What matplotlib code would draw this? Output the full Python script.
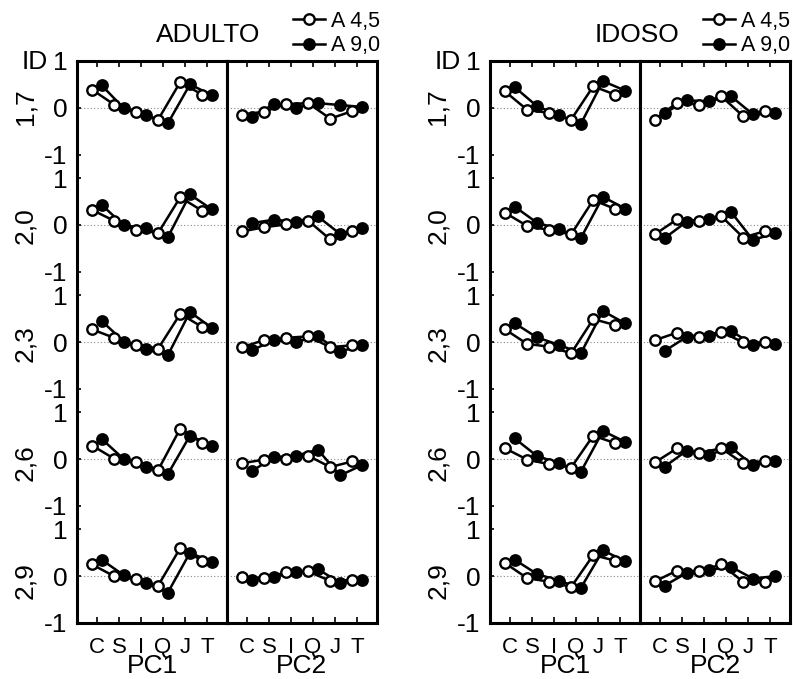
import numpy as np
import matplotlib
matplotlib.use("Agg")
import matplotlib.pyplot as plt

plt.rcParams['font.family'] = ['Liberation Sans', 'DejaVu Sans']

cats = ["C", "S", "I", "Q", "J", "T"]
ids = ["1,7", "2,0", "2,3", "2,6", "2,9"]
groups = ["A 4,5", "A 9,0"]

# rows = ID 1,7 .. 2,9 ; columns = C S I Q J T
adulto_pc1_a45 = [[0.39, 0.07, -0.09, -0.25, 0.55, 0.28],
                  [0.32, 0.09, -0.11, -0.17, 0.59, 0.30],
                  [0.27, 0.09, -0.06, -0.14, 0.60, 0.32],
                  [0.29, 0.01, -0.06, -0.23, 0.65, 0.34],
                  [0.25, 0.00, -0.07, -0.20, 0.60, 0.33]]
adulto_pc1_a90 = [[0.48, -0.01, -0.16, -0.33, 0.50, 0.27],
                  [0.43, -0.01, -0.07, -0.26, 0.65, 0.33],
                  [0.45, 0.01, -0.16, -0.28, 0.64, 0.30],
                  [0.43, 0.00, -0.16, -0.32, 0.50, 0.29],
                  [0.35, 0.02, -0.14, -0.35, 0.50, 0.30]]
adulto_pc2_a45 = [[-0.15, -0.08, 0.08, 0.10, -0.23, -0.07],
                  [-0.14, -0.05, 0.01, 0.09, -0.31, -0.12],
                  [-0.11, 0.04, 0.09, 0.12, -0.11, -0.07],
                  [-0.09, -0.01, 0.00, 0.07, -0.17, -0.05],
                  [-0.02, -0.04, 0.08, 0.10, -0.10, -0.08]]
adulto_pc2_a90 = [[-0.20, 0.08, 0.00, 0.10, 0.06, 0.02],
                  [0.04, 0.11, 0.07, 0.18, -0.19, -0.06],
                  [-0.18, 0.04, 0.00, 0.12, -0.21, -0.06],
                  [-0.26, 0.04, 0.07, 0.20, -0.35, -0.13],
                  [-0.08, -0.01, 0.08, 0.15, -0.14, -0.08]]

idoso_pc1_a45 = [[0.35, -0.04, -0.11, -0.25, 0.46, 0.28],
                 [0.26, -0.02, -0.11, -0.20, 0.53, 0.34],
                 [0.27, -0.04, -0.10, -0.24, 0.49, 0.36],
                 [0.23, -0.01, -0.11, -0.18, 0.50, 0.34],
                 [0.28, -0.04, -0.12, -0.23, 0.45, 0.33]]
idoso_pc1_a90 = [[0.44, 0.04, -0.16, -0.34, 0.57, 0.37],
                 [0.39, 0.05, -0.09, -0.28, 0.60, 0.35],
                 [0.40, 0.10, -0.06, -0.24, 0.66, 0.40],
                 [0.44, 0.07, -0.09, -0.27, 0.60, 0.37],
                 [0.35, 0.05, -0.10, -0.25, 0.55, 0.32]]
idoso_pc2_a45 = [[-0.25, 0.11, 0.07, 0.25, -0.18, -0.07],
                 [-0.20, 0.12, 0.09, 0.19, -0.27, -0.13],
                 [0.04, 0.20, 0.11, 0.22, -0.01, -0.01],
                 [-0.07, 0.23, 0.13, 0.23, -0.09, -0.04],
                 [-0.11, 0.12, 0.10, 0.25, -0.12, -0.13]]
idoso_pc2_a90 = [[-0.11, 0.16, 0.14, 0.25, -0.14, -0.11],
                 [-0.28, 0.07, 0.12, 0.28, -0.32, -0.18],
                 [-0.19, 0.11, 0.13, 0.24, -0.06, -0.05],
                 [-0.16, 0.18, 0.09, 0.25, -0.13, -0.04],
                 [-0.20, 0.07, 0.13, 0.20, -0.05, 0.00]]

W, H = 793, 679
fig = plt.figure(figsize=(W / 100, H / 100), dpi=100)

row_step = 2.5
x = np.arange(len(cats))
offs = 0.22

# title, box left edge, title centre, legend right edge (all px), data
panels = [("ADULTO", 77, 208, 380, [(adulto_pc1_a45, adulto_pc1_a90), (adulto_pc2_a45, adulto_pc2_a90)]),
          ("IDOSO", 490, 637, 790, [(idoso_pc1_a45, idoso_pc1_a90), (idoso_pc2_a45, idoso_pc2_a90)])]

top_px, bot_px, col_px = 61, 623, 150

for title, left_px, title_px, leg_px, cols in panels:
    axes = []
    for ci, (open_d, fill_d) in enumerate(cols):
        ax = fig.add_axes([(left_px + ci * col_px) / W, 1 - bot_px / H,
                           col_px / W, (bot_px - top_px) / H])
        axes.append(ax)
        for r in range(len(ids)):
            base = -r * row_step
            ax.axhline(base, color="#888888", ls=(0, (1, 2)), lw=0.8, zorder=1)
            lf, = ax.plot(x + offs, np.array(fill_d[r]) + base, "-o", color="black",
                          lw=1.8, ms=8, mfc="black", mec="black", mew=1.2, zorder=3)
            lo, = ax.plot(x - offs, np.array(open_d[r]) + base, "-o", color="black",
                          lw=1.8, ms=7.5, mfc="white", mec="black", mew=1.7, zorder=4)
        ax.set_xlim(-0.9, 5.9)
        ax.set_ylim(-len(ids) * row_step + row_step - 1.0, 1.0)
        ax.set_xticks(x)
        ax.set_xticklabels(cats, fontsize=16)
        ax.tick_params(axis="x", direction="in", top=True, bottom=True, length=4,
                       width=1.2, pad=10)
        ax.set_xlabel("PC%d" % (ci + 1), fontsize=19, labelpad=-3)
        for s in ax.spines.values():
            s.set_linewidth(2.2)
        if ci == 0:
            yt, yl = [], []
            for r in range(len(ids)):
                base = -r * row_step
                yt += [base + 1, base, base - 1]
                yl += ["1", "0", "-1"]
            ax.set_yticks(yt)
            ax.set_yticklabels(yl, fontsize=19)
            ax.tick_params(axis="y", direction="in", length=3, width=1.2, pad=7)
            for r, lab in enumerate(ids):
                fig.text((left_px - 52) / W, 1 - (107 + r * 118.5) / H, lab,
                         rotation=90, fontsize=19, ha="center", va="center")
            fig.text((left_px - 42) / W, 1 - 62 / H, "ID", fontsize=19,
                     ha="center", va="center")
        else:
            ax.set_yticks([])
    fig.text(title_px / W, 1 - 35 / H, title, fontsize=19,
             ha="center", va="center")
    axes[1].legend([lo, lf], groups, loc="upper right", numpoints=1,
                   bbox_to_anchor=(leg_px / W, 1 - 11 / H),
                   bbox_transform=fig.transFigure, frameon=False, fontsize=15.5,
                   handlelength=1.5, handletextpad=0.25, labelspacing=0.15,
                   borderpad=0, borderaxespad=0)

fig.savefig("out.png", dpi=100)
